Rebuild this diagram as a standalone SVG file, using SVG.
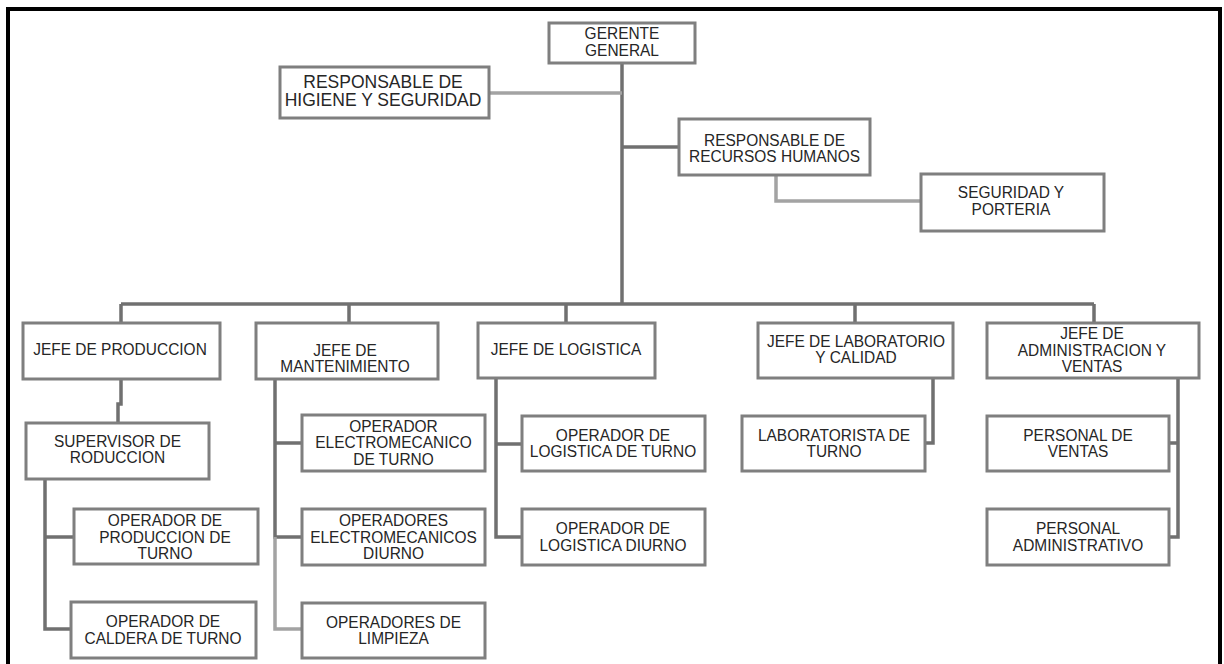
<svg xmlns="http://www.w3.org/2000/svg" width="1224" height="664" viewBox="0 0 1224 664">
  <style>
    .frame { fill: #ffffff; stroke: #000000; stroke-width: 4; }
    .box { fill: #ffffff; stroke: #7f7f7f; stroke-width: 3; }
    .t { font-family: "Liberation Sans", Arial, sans-serif; font-size: 17px; fill: #262626; text-anchor: middle; }
    .t2 { font-size: 17.5px; }
    .ln { fill: none; stroke: #707070; stroke-width: 3.5; stroke-linejoin: miter; }
    .lt { fill: none; stroke: #a3a3a3; stroke-width: 3.5; stroke-linejoin: miter; }
  </style>

  <!-- page border -->
  <rect class="frame" x="8" y="9" width="1212" height="664"/>

  <!-- connectors -->
  <g id="connectors">
    <path class="ln" d="M622 63 V304"/>
    <path class="lt" d="M489 93 H622"/>
    <path class="ln" d="M622 147 H679"/>
    <path class="lt" d="M776 175 V201 H921"/>
    <path class="ln" d="M121 304 H1094"/>
    <path class="ln" d="M121 304 V323 M349 304 V323 M566 304 V323 M855 304 V323 M1094 304 V323"/>
    <path class="ln" d="M121 379 V404 H118 V423"/>
    <path class="ln" d="M45 479 V629 H71 M45 537 H74"/>
    <path class="ln" d="M275 379 V537 H302 M275 443 H302"/>
    <path class="lt" d="M275 537 V629 H302"/>
    <path class="ln" d="M496 378 V537 H522 M496 444 H522"/>
    <path class="ln" d="M933 378 V443 H925"/>
    <path class="ln" d="M1178 378 V537 H1169 M1178 443 H1169"/>
  </g>

  <g id="gerente">
    <rect class="box" x="549" y="23" width="146" height="40"/>
    <text class="t" transform="translate(622 0) scale(.91 1)"><tspan x="0" y="39.5">GERENTE</tspan><tspan x="0" y="56.5">GENERAL</tspan></text>
  </g>
  <g id="higiene">
    <rect class="box" x="280" y="67" width="209" height="51"/>
    <text class="t t2" transform="translate(383 0)"><tspan x="0" y="88">RESPONSABLE DE</tspan><tspan x="0" y="106">HIGIENE Y SEGURIDAD</tspan></text>
  </g>
  <g id="rrhh">
    <rect class="box" x="679" y="119" width="191" height="56"/>
    <text class="t" transform="translate(774.5 0) scale(.91 1)"><tspan x="0" y="145.6">RESPONSABLE DE</tspan><tspan x="0" y="162.4">RECURSOS HUMANOS</tspan></text>
  </g>
  <g id="seguridad">
    <rect class="box" x="921" y="174" width="183" height="57"/>
    <text class="t" transform="translate(1011 0) scale(.91 1)"><tspan x="0" y="198">SEGURIDAD Y</tspan><tspan x="0" y="215.5">PORTERIA</tspan></text>
  </g>

  <g id="jefe-produccion">
    <rect class="box" x="23" y="323" width="197" height="56"/>
    <text class="t" transform="translate(120 0) scale(.91 1)"><tspan x="0" y="355">JEFE DE PRODUCCION</tspan></text>
  </g>
  <g id="jefe-mantenimiento">
    <rect class="box" x="256" y="323" width="182" height="56"/>
    <text class="t" transform="translate(345 0) scale(.91 1)"><tspan x="0" y="355.6">JEFE DE</tspan><tspan x="0" y="372.4">MANTENIMIENTO</tspan></text>
  </g>
  <g id="jefe-logistica">
    <rect class="box" x="478" y="323" width="177" height="55"/>
    <text class="t" transform="translate(566 0) scale(.91 1)"><tspan x="0" y="355">JEFE DE LOGISTICA</tspan></text>
  </g>
  <g id="jefe-laboratorio">
    <rect class="box" x="758" y="323" width="195" height="55"/>
    <text class="t" transform="translate(856 0) scale(.91 1)"><tspan x="0" y="346.6">JEFE DE LABORATORIO</tspan><tspan x="0" y="363.4">Y CALIDAD</tspan></text>
  </g>
  <g id="jefe-administracion">
    <rect class="box" x="987" y="323" width="212" height="55"/>
    <text class="t" transform="translate(1092 0) scale(.91 1)"><tspan x="0" y="338.8">JEFE DE</tspan><tspan x="0" y="355.6">ADMINISTRACION Y</tspan><tspan x="0" y="372.4">VENTAS</tspan></text>
  </g>

  <g id="supervisor">
    <rect class="box" x="26" y="423" width="183" height="56"/>
    <text class="t" transform="translate(117.5 0) scale(.91 1)"><tspan x="0" y="446.6">SUPERVISOR DE</tspan><tspan x="0" y="463.4">RODUCCION</tspan></text>
  </g>
  <g id="op-electromecanico-turno">
    <rect class="box" x="302" y="415" width="183" height="56"/>
    <text class="t" transform="translate(393.5 0) scale(.91 1)"><tspan x="0" y="431.6">OPERADOR</tspan><tspan x="0" y="448.4">ELECTROMECANICO</tspan><tspan x="0" y="465.2">DE TURNO</tspan></text>
  </g>
  <g id="op-logistica-turno">
    <rect class="box" x="522" y="416" width="183" height="55"/>
    <text class="t" transform="translate(613 0) scale(.91 1)"><tspan x="0" y="440.6">OPERADOR DE</tspan><tspan x="0" y="457.4">LOGISTICA DE TURNO</tspan></text>
  </g>
  <g id="laboratorista">
    <rect class="box" x="742" y="416" width="183" height="55"/>
    <text class="t" transform="translate(834 0) scale(.91 1)"><tspan x="0" y="440.6">LABORATORISTA DE</tspan><tspan x="0" y="457.4">TURNO</tspan></text>
  </g>
  <g id="personal-ventas">
    <rect class="box" x="987" y="416" width="182" height="55"/>
    <text class="t" transform="translate(1078 0) scale(.91 1)"><tspan x="0" y="440.6">PERSONAL DE</tspan><tspan x="0" y="457.4">VENTAS</tspan></text>
  </g>

  <g id="op-produccion-turno">
    <rect class="box" x="74" y="509" width="184" height="55"/>
    <text class="t" transform="translate(165 0) scale(.91 1)"><tspan x="0" y="525.8">OPERADOR DE</tspan><tspan x="0" y="542.6">PRODUCCION DE</tspan><tspan x="0" y="559.4">TURNO</tspan></text>
  </g>
  <g id="op-caldera-turno">
    <rect class="box" x="71" y="602" width="185" height="56"/>
    <text class="t" transform="translate(163 0) scale(.91 1)"><tspan x="0" y="627">OPERADOR DE</tspan><tspan x="0" y="643.8">CALDERA DE TURNO</tspan></text>
  </g>
  <g id="op-electromecanicos-diurno">
    <rect class="box" x="302" y="509" width="183" height="56"/>
    <text class="t" transform="translate(393.5 0) scale(.91 1)"><tspan x="0" y="525.8">OPERADORES</tspan><tspan x="0" y="542.6">ELECTROMECANICOS</tspan><tspan x="0" y="559.4">DIURNO</tspan></text>
  </g>
  <g id="op-limpieza">
    <rect class="box" x="302" y="603" width="183" height="55"/>
    <text class="t" transform="translate(393.5 0) scale(.91 1)"><tspan x="0" y="627.6">OPERADORES DE</tspan><tspan x="0" y="644.4">LIMPIEZA</tspan></text>
  </g>
  <g id="op-logistica-diurno">
    <rect class="box" x="522" y="509" width="183" height="56"/>
    <text class="t" transform="translate(613 0) scale(.91 1)"><tspan x="0" y="534">OPERADOR DE</tspan><tspan x="0" y="550.8">LOGISTICA DIURNO</tspan></text>
  </g>
  <g id="personal-administrativo">
    <rect class="box" x="987" y="509" width="182" height="56"/>
    <text class="t" transform="translate(1078 0) scale(.91 1)"><tspan x="0" y="534">PERSONAL</tspan><tspan x="0" y="550.8">ADMINISTRATIVO</tspan></text>
  </g>
</svg>
